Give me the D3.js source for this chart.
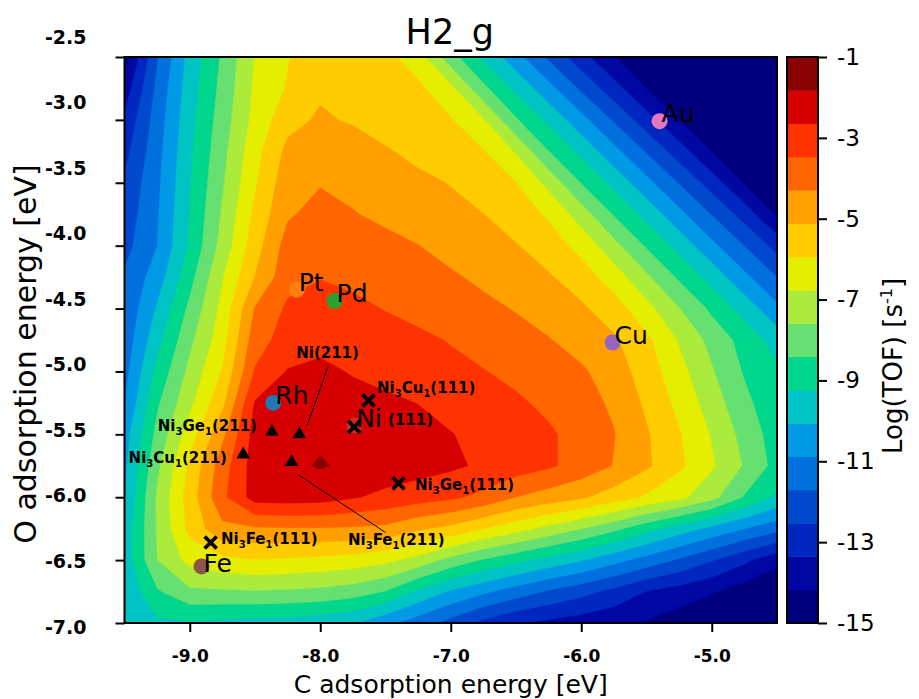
<!DOCTYPE html>
<html>
<head>
<meta charset="utf-8">
<title>H2_g</title>
<script src="https://cdn.jsdelivr.net/npm/d3@7/dist/d3.min.js"></script>
<style>
  html, body { margin: 0; padding: 0; background: #ffffff; }
  svg { display: block; font-family: "DejaVu Sans", sans-serif; }
</style>
</head>
<body>
<svg id="chart" width="919" height="699"></svg>
<script>
// ---------------- data ----------------
// grid axes: C adsorption energy (columns) and O adsorption energy (rows), eV
const cEnergy = [-9.5, -9.25, -9.0, -8.75, -8.5, -8.25, -8.0, -7.75, -7.5, -7.25, -7.0,
                 -6.75, -6.5, -6.25, -6.0, -5.75, -5.5, -5.25, -5.0, -4.75, -4.5];
const oEnergy = [-2.5, -2.75, -3.0, -3.25, -3.5, -3.75, -4.0, -4.25, -4.5, -4.75,
                 -5.0, -5.25, -5.5, -5.75, -6.0, -6.25, -6.5, -6.75, -7.0];

// log10(TOF / s^-1), one row per O energy, one column per C energy
const logTOF = [
  [-14.6, -11.78, -9.76, -8.29, -6.72, -5.99, -5.5, -5.4, -5.7, -6.4, -8.07, -9.38, -10.58, -11.86, -13.06, -14.13, -15, -15, -15, -15, -15],
  [-13.82, -11.5, -9.63, -8.15, -6.62, -5.87, -5.25, -5.3, -5.5, -5.75, -6.54, -8.21, -9.41, -10.6, -11.84, -13.03, -14.17, -15, -15, -15, -15],
  [-13.2, -11.31, -9.5, -8.0, -6.51, -5.4, -5.0, -5.21, -5.43, -5.66, -5.88, -6.68, -8.32, -9.43, -10.61, -11.8, -13.0, -14.19, -15, -15, -15],
  [-12.8, -11.17, -9.39, -7.84, -6.23, -4.9, -4.6, -4.7, -5.05, -5.31, -5.6, -5.9, -6.85, -8.4, -9.46, -10.63, -11.78, -12.96, -14.22, -15, -15],
  [-12.4, -11.06, -9.29, -7.68, -6.04, -4.6, -4.35, -4.5, -4.7, -4.95, -5.15, -5.55, -5.93, -7.02, -8.45, -9.48, -10.64, -11.76, -12.92, -14.25, -15],
  [-12.2, -10.97, -9.2, -7.49, -5.74, -4.4, -4.0, -4.25, -4.47, -4.68, -4.89, -5.11, -5.55, -6.05, -7.19, -8.48, -9.5, -10.65, -11.74, -12.88, -14.3],
  [-11.99, -10.89, -9.11, -7.28, -5.48, -3.95, -3.7, -3.85, -4.07, -4.28, -4.55, -4.81, -5.07, -5.55, -6.2, -7.32, -8.51, -9.52, -10.67, -11.72, -12.83],
  [-11.6, -10.49, -8.7, -6.83, -5.1, -3.75, -3.5, -3.68, -3.85, -4.03, -4.2, -4.44, -4.73, -5.03, -5.55, -6.34, -7.44, -8.55, -9.55, -10.68, -11.71],
  [-11.55, -9.97, -8.22, -6.53, -4.24, -3.34, -3.1, -3.25, -3.51, -3.71, -3.92, -4.12, -4.34, -4.66, -4.98, -5.56, -6.5, -7.56, -8.58, -9.57, -10.69],
  [-11.4, -9.52, -7.78, -6.28, -3.84, -3.1, -2.9, -2.85, -3.1, -3.3, -3.52, -3.77, -4.01, -4.25, -4.62, -5.0, -5.76, -6.84, -7.85, -8.73, -9.57],
  [-11.16, -9.02, -7.37, -5.88, -3.4, -2.6, -2.45, -2.71, -2.89, -3.07, -3.25, -3.44, -3.67, -3.93, -4.18, -4.7, -5.51, -6.48, -7.51, -8.49, -9.15],
  [-10.9, -8.54, -6.97, -5.34, -2.58, -2.35, -2.25, -2.35, -2.5, -2.66, -2.89, -3.12, -3.35, -3.64, -3.99, -4.42, -5.27, -6.16, -7.17, -8.2, -9.0],
  [-10.43, -8.17, -6.35, -4.51, -2.3, -2.05, -1.95, -2.05, -2.2, -2.4, -2.62, -2.85, -3.11, -3.36, -3.76, -4.26, -5.03, -5.87, -6.83, -7.87, -8.83],
  [-10.25, -7.78, -5.78, -3.85, -2.25, -2.0, -1.76, -1.98, -2.15, -2.3, -2.5, -2.78, -3.06, -3.35, -3.79, -4.33, -4.98, -5.78, -6.65, -7.66, -8.71],
  [-10.1, -7.48, -5.56, -3.65, -2.3, -2.25, -2.3, -2.58, -2.85, -3.09, -3.32, -3.69, -4.3, -4.65, -5.0, -5.51, -6.06, -6.56, -7.33, -8.48, -9.4],
  [-9.77, -7.52, -5.7, -4.5, -4.4, -4.35, -4.35, -4.4, -4.5, -5.0, -5.34, -5.91, -6.46, -7.01, -7.58, -8.2, -8.95, -9.65, -10.27, -10.87, -11.43],
  [-9.72, -7.6, -6.5, -6.15, -5.98, -6.05, -6.15, -6.3, -6.55, -7.07, -7.85, -8.49, -9.0, -9.51, -10.0, -10.6, -11.2, -11.8, -12.47, -13.17, -13.95],
  [-9.95, -8.51, -7.75, -7.7, -7.65, -7.7, -7.8, -8.0, -8.44, -9.39, -10.16, -10.72, -11.27, -11.8, -12.25, -12.76, -13.37, -13.73, -14.1, -14.6, -15],
  [-9.8, -9.4, -9.35, -9.45, -9.55, -9.6, -9.75, -10.0, -10.66, -11.3, -12.0, -12.75, -13.28, -13.55, -13.77, -13.99, -14.25, -14.6, -15, -15, -15]
];

// filled contour levels (17 bands from -15 to -1) and their colours
const levels = [-15, -14.176, -13.353, -12.529, -11.706, -10.882, -10.059, -9.235, -8.412,
                -7.588, -6.765, -5.941, -5.118, -4.294, -3.471, -2.647, -1.824, -1];
const levelColors = ["#00007f", "#0008a4", "#0028c0", "#0048cc", "#0070de", "#0099e6",
                     "#00c4c4", "#00d68c", "#66e070", "#aaeb3c", "#e6ee00", "#ffcc00",
                     "#ffa000", "#ff6600", "#ff3300", "#d60000", "#8b0000"];

const colorbarTicks = [-1, -3, -5, -7, -9, -11, -13, -15];
const xTicks = [-9.0, -8.0, -7.0, -6.0, -5.0];
const yTicks = [-2.5, -3.0, -3.5, -4.0, -4.5, -5.0, -5.5, -6.0, -6.5, -7.0];

// pure metals
const metalNames  = ["Au", "Cu", "Pt", "Pd", "Rh", "Ni", "Fe"];
const metalC      = [-5.40, -5.76, -8.18, -7.89, -8.36, -7.74, -8.91];
const metalO      = [-3.01, -4.77, -4.35, -4.44, -5.25, -5.43, -6.55];
const metalColors = ["#e377c2", "#9467bd", "#ff7f0e", "#2ca02c", "#1f77b4", "#d62728", "#8c564b"];
// vertical offset of each name's baseline below its dot, px
const metalLabelDy = [1, 1, 1, 1, 1, 1, 6];

// Ni-based surfaces: (111) terraces drawn as crosses, (211) steps as triangles
const siteLabels = ["Ni3Cu1(111)", "(111)", "Ni3Ge1(111)", "Ni3Fe1(111)",
                    "Ni3Ge1(211)", "Ni(211)", "Ni3Cu1(211)", "Ni3Fe1(211)"];
const siteFacet  = ["111", "111", "111", "111", "211", "211", "211", "211"];
const siteC      = [-7.63, -7.74, -7.40, -8.84, -8.37, -8.16, -8.59, -8.22];
const siteO      = [-5.23, -5.44, -5.89, -6.36, -5.48, -5.50, -5.66, -5.72];
// label anchor positions (eV) and text alignment
const labelC     = [-7.565, -7.481, -7.274, -8.760, -8.485, -7.944, -8.715, -7.787];
const labelO     = [-5.131, -5.386, -5.902, -6.330, -5.433, -4.853, -5.688, -6.339];
const labelAlign = ["start", "start", "start", "start", "end", "middle", "end", "start"];
// leader lines from a label to its marker: [c1, o1, c2, o2]
const leaderLines = [[-7.94, -4.96, -8.10, -5.43], [-8.17, -5.82, -7.50, -6.28]];

// ---------------- layout ----------------
const plot = { left: 124.5, right: 777, top: 57, bottom: 623 };
const cbar = { left: 787, right: 818 };
const svg = d3.select("#chart");

const x = d3.scaleLinear().domain([cEnergy[0], cEnergy[cEnergy.length - 1]]).range([plot.left, plot.right]);
const y = d3.scaleLinear().domain([oEnergy[0], oEnergy[oEnergy.length - 1]]).range([plot.top, plot.bottom]);

// grid index space of d3.contours -> energies (sample i sits at i + 0.5)
const nx = cEnergy.length, ny = oEnergy.length;
const gx = d3.scaleLinear().domain([0.5, nx - 0.5]).range([cEnergy[0], cEnergy[nx - 1]]);
const gy = d3.scaleLinear().domain([0.5, ny - 0.5]).range([oEnergy[0], oEnergy[ny - 1]]);

const toScreen = d3.geoTransform({
  point(gxv, gyv) { this.stream.point(x(gx(gxv)), y(gy(gyv))); }
});
const contourPath = d3.geoPath(toScreen);

const bands = d3.contours()
  .size([nx, ny])
  .thresholds(levels.slice(0, levels.length - 1))(logTOF.flat());

svg.append("defs").append("clipPath").attr("id", "plotClip")
  .append("rect")
  .attr("x", plot.left).attr("y", plot.top)
  .attr("width", plot.right - plot.left).attr("height", plot.bottom - plot.top);

const field = svg.append("g").attr("clip-path", "url(#plotClip)");
field.append("rect")
  .attr("x", plot.left).attr("y", plot.top)
  .attr("width", plot.right - plot.left).attr("height", plot.bottom - plot.top)
  .attr("fill", levelColors[0]);
field.selectAll("path.band")
  .data(bands)
  .join("path")
  .attr("class", "band")
  .attr("d", contourPath)
  .attr("fill", (d, i) => levelColors[i])
  .attr("stroke", (d, i) => levelColors[i])
  .attr("stroke-width", 0.4);

// ---------------- markers ----------------
const marks = svg.append("g");

// leader lines
marks.selectAll("line.leader")
  .data(leaderLines)
  .join("line")
  .attr("class", "leader")
  .attr("x1", d => x(d[0])).attr("y1", d => y(d[1]))
  .attr("x2", d => x(d[2])).attr("y2", d => y(d[3]))
  .attr("stroke", "#000").attr("stroke-width", 1);

// metal dots
const metalIdx = d3.range(metalNames.length);
marks.selectAll("circle.metal")
  .data(metalIdx)
  .join("circle")
  .attr("class", "metal")
  .attr("cx", i => x(metalC[i])).attr("cy", i => y(metalO[i]))
  .attr("r", 8)
  .attr("fill", i => metalColors[i]);

// Ni-based site markers
const siteIdx = d3.range(siteLabels.length);
const triangle = d3.symbol().type(d3.symbolTriangle).size(80);
marks.selectAll("path.site")
  .data(siteIdx)
  .join("path")
  .attr("class", "site")
  .attr("transform", i => `translate(${x(siteC[i])},${y(siteO[i])})`)
  .attr("d", i => siteFacet[i] === "111" ? "M-6,-6L6,6M-6,6L6,-6" : triangle())
  .attr("fill", i => siteFacet[i] === "111" ? "none" : "#000")
  .attr("stroke", i => siteFacet[i] === "111" ? "#000" : "none")
  .attr("stroke-width", 3.8);

// metal names
marks.selectAll("text.metal")
  .data(metalIdx)
  .join("text")
  .attr("class", "metal")
  .attr("x", i => x(metalC[i]) + 2)
  .attr("y", i => y(metalO[i]) + metalLabelDy[i])
  .attr("font-size", 25)
  .attr("fill", "#000")
  .text(i => metalNames[i]);

// site names, digits right after an element symbol become subscripts
function writeFormula(sel, str) {
  const parts = [];
  for (let k = 0; k < str.length; k++) {
    const ch = str[k];
    const sub = /\d/.test(ch) && k > 0 && /[A-Za-z]/.test(str[k - 1]);
    if (parts.length && parts[parts.length - 1].sub === sub) parts[parts.length - 1].t += ch;
    else parts.push({ t: ch, sub });
  }
  let shifted = false;
  parts.forEach(p => {
    const ts = sel.append("tspan").text(p.t);
    if (p.sub) { ts.attr("font-size", 10).attr("dy", 3.5); shifted = true; }
    else if (shifted) { ts.attr("dy", -3.5); shifted = false; }
  });
}
marks.selectAll("text.site")
  .data(siteIdx)
  .join("text")
  .attr("class", "site")
  .attr("x", i => x(labelC[i]))
  .attr("y", i => y(labelO[i]) + 5.5)
  .attr("text-anchor", i => labelAlign[i])
  .attr("font-size", 15)
  .attr("font-weight", "bold")
  .attr("fill", "#000")
  .each(function (i) { writeFormula(d3.select(this), siteLabels[i]); });

// ---------------- frame and axes ----------------
svg.append("rect")
  .attr("x", plot.left).attr("y", plot.top)
  .attr("width", plot.right - plot.left).attr("height", plot.bottom - plot.top)
  .attr("fill", "none").attr("stroke", "#000").attr("stroke-width", 2);

const gX = svg.append("g")
  .attr("transform", `translate(0,${plot.bottom})`)
  .call(d3.axisBottom(x).tickValues(xTicks).tickFormat(d => d.toFixed(1))
    .tickSize(9).tickSizeOuter(0).tickPadding(18));
gX.select(".domain").remove();
gX.attr("font-family", "DejaVu Sans").attr("font-size", 17).attr("font-weight", "bold");
gX.selectAll("line").attr("stroke", "#000").attr("stroke-width", 2);
gX.selectAll("text").attr("fill", "#000");

// the O-energy tick labels sit on their own, slightly wider spacing
const yLabelPos = d3.scaleLinear().domain([yTicks[0], yTicks[yTicks.length - 1]]).range([37, 627]);
const gY = svg.append("g")
  .attr("transform", `translate(${plot.left},0)`)
  .call(d3.axisLeft(y).tickValues(yTicks).tickFormat(d => d.toFixed(1))
    .tickSize(9).tickSizeOuter(0).tickPadding(29));
gY.select(".domain").remove();
gY.attr("font-family", "DejaVu Sans").attr("font-size", 19).attr("font-weight", "bold");
gY.selectAll("line").attr("stroke", "#000").attr("stroke-width", 2);
gY.selectAll("text").attr("fill", "#000").attr("y", d => yLabelPos(d) - y(d));

svg.append("text")
  .attr("x", (plot.left + plot.right) / 2).attr("y", 693)
  .attr("text-anchor", "middle").attr("font-size", 25).attr("fill", "#000")
  .text("C adsorption energy [eV]");

svg.append("text")
  .attr("transform", `translate(36,354) rotate(-90)`)
  .attr("text-anchor", "middle").attr("font-size", 30).attr("fill", "#000")
  .text("O adsorption energy [eV]");

svg.append("text")
  .attr("x", (plot.left + plot.right) / 2 - 1).attr("y", 44)
  .attr("text-anchor", "middle").attr("font-size", 35).attr("fill", "#000")
  .text("H2_g");

// ---------------- colour bar ----------------
const cbY = d3.scaleLinear().domain([levels[0], levels[levels.length - 1]]).range([plot.bottom, plot.top]);
const cbIdx = d3.range(levelColors.length);
svg.append("g").selectAll("rect")
  .data(cbIdx)
  .join("rect")
  .attr("x", cbar.left).attr("width", cbar.right - cbar.left)
  .attr("y", i => cbY(levels[i + 1]))
  .attr("height", i => cbY(levels[i]) - cbY(levels[i + 1]) + 0.5)
  .attr("fill", i => levelColors[i]);
svg.append("rect")
  .attr("x", cbar.left).attr("y", plot.top)
  .attr("width", cbar.right - cbar.left).attr("height", plot.bottom - plot.top)
  .attr("fill", "none").attr("stroke", "#000").attr("stroke-width", 2);

const gC = svg.append("g")
  .attr("transform", `translate(${cbar.right},0)`)
  .call(d3.axisRight(cbY).tickValues(colorbarTicks).tickFormat(d => String(d))
    .tickSize(9).tickSizeOuter(0).tickPadding(10));
gC.select(".domain").remove();
gC.attr("font-family", "DejaVu Sans").attr("font-size", 23);
gC.selectAll("line").attr("stroke", "#000").attr("stroke-width", 2);
gC.selectAll("text").attr("fill", "#000");

const cbLabel = svg.append("text")
  .attr("transform", `translate(902,366) rotate(-90)`)
  .attr("text-anchor", "middle").attr("font-size", 26).attr("fill", "#000");
cbLabel.append("tspan").text("Log(TOF) [s");
cbLabel.append("tspan").attr("font-size", 16).attr("dy", -10).text("-1");
cbLabel.append("tspan").attr("dy", 10).text("]");
</script>
</body>
</html>
